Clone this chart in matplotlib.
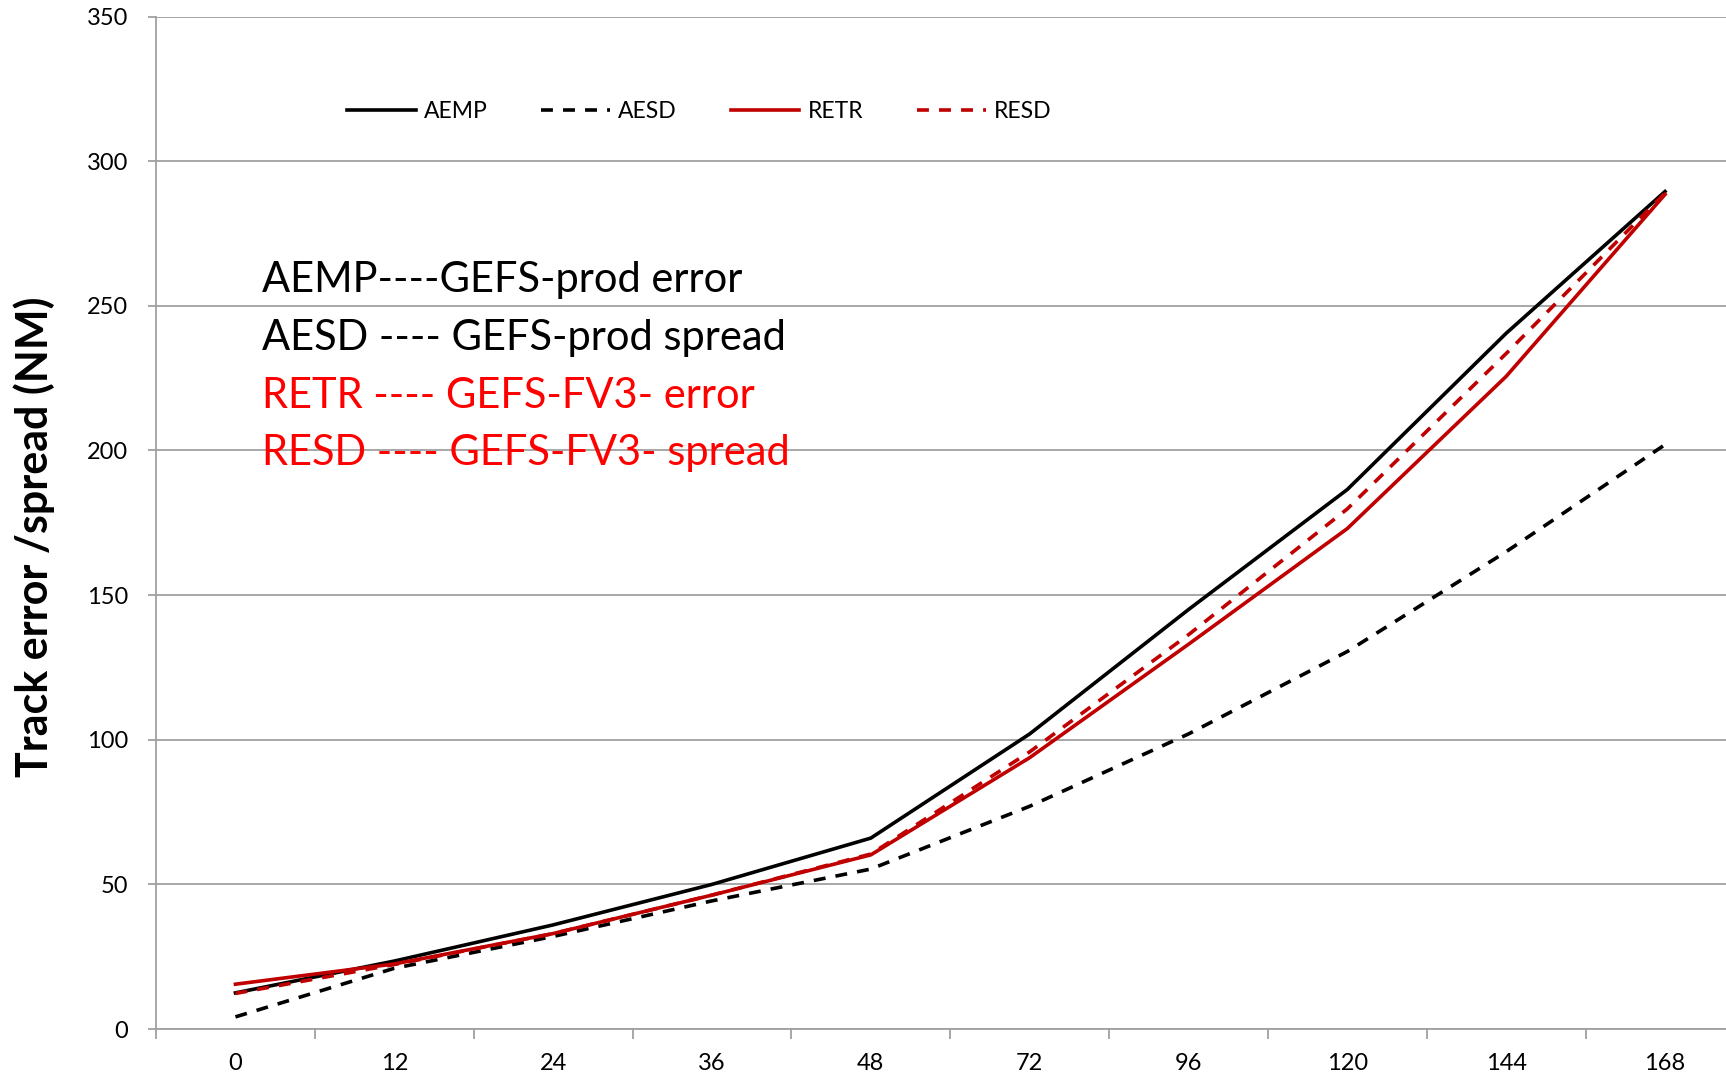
import numpy as np
import matplotlib.pyplot as plt
from matplotlib.ticker import FixedLocator

plt.rcParams['font.family'] = ['Lato', 'DejaVu Sans']

# forecast lead times (h), drawn as equally spaced categories
leads = ['0', '12', '24', '36', '48', '72', '96', '120', '144', '168']

# track error / spread (NM)
aemp = [12.5, 23.5, 36, 50, 66, 102, 145, 186.5, 240.5, 289.5]
aesd = [4.2, 21, 32, 44.3, 55.3, 77, 102, 130.5, 165, 202]
retr = [15.5, 22.5, 33, 46.3, 60.2, 93.8, 133, 173, 225.6, 288.5]
resd = [12.3, 22.3, 33, 46.3, 60.5, 95.8, 136.3, 179.8, 233.5, 289]

notes = ['AEMP----GEFS-prod error',
         'AESD ---- GEFS-prod spread',
         'RETR ---- GEFS-FV3- error',
         'RESD ---- GEFS-FV3- spread']
note_colors = ['black', 'black', '#FF0000', '#FF0000']

dark_red = '#C00000'
grid_col = '#A0A0A0'

fig = plt.figure(figsize=(17.26, 10.79), dpi=100)
ax = fig.add_axes([0.0904, 0.0463, 0.9096, 0.9384])

x = np.arange(len(leads))
lw = 2.6
ax.plot(x, aemp, color='black', lw=lw, label='AEMP')
ax.plot(x, aesd, color='black', lw=lw, ls=(0, (3.3, 2.8)), label='AESD')
ax.plot(x, retr, color=dark_red, lw=lw, label='RETR')
ax.plot(x, resd, color=dark_red, lw=lw, ls=(0, (3.3, 2.8)), label='RESD')

ax.set_ylim(0, 350)
ax.set_yticks(np.arange(0, 351, 50))
ax.set_xlim(-0.5, 9.384)
ax.set_xticks(x)
ax.set_xticklabels(leads)
ax.xaxis.set_minor_locator(FixedLocator(np.arange(-0.5, 9.5, 1.0)))

ax.grid(axis='y', color=grid_col, lw=1.3)
ax.set_axisbelow(True)
for s in ['top', 'right']:
    ax.spines[s].set_visible(False)
for s in ['left', 'bottom']:
    ax.spines[s].set_color(grid_col)
    ax.spines[s].set_linewidth(1.3)

ax.tick_params(axis='x', which='major', length=0, pad=17, labelsize=17)
ax.tick_params(axis='x', which='minor', length=7, width=1.3, color=grid_col)
ax.tick_params(axis='y', length=6, width=1.3, color=grid_col, pad=14, labelsize=17)

ax.set_ylabel('Track error /spread (NM)', fontsize=31, fontweight='bold')
ax.yaxis.set_label_coords(-0.0643, 0.486)

# explanation of the series codes
for i, (t, c) in enumerate(zip(notes, note_colors)):
    ax.text(0.17, 254.8 - 20 * i, t, color=c, fontsize=30, va='baseline', ha='left')

fig.legend(loc='center', bbox_to_anchor=(0.405, 0.897), ncol=4, frameon=False,
           fontsize=16.5, handlelength=3.0, handletextpad=0.35, columnspacing=2.35)

fig.savefig('out.png', dpi=100)
